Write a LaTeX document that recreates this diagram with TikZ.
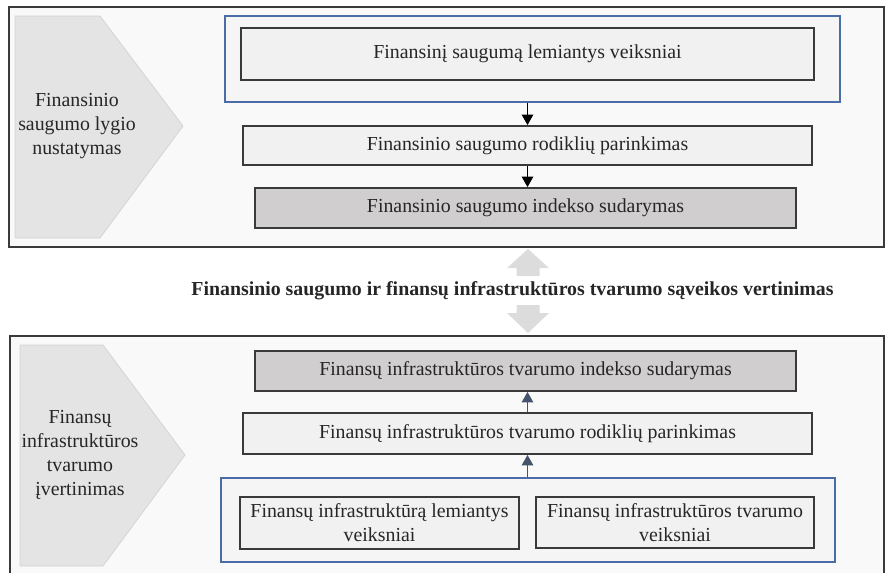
\documentclass[tikz,border=0pt]{standalone}
\usepackage{fontspec}
\setmainfont{Liberation Serif}
\usepackage{xcolor}
\definecolor{Frame}{HTML}{3A3A3A}
\definecolor{Sheet}{HTML}{F9F9F9}
\definecolor{Shade}{HTML}{E4E4E4}
\definecolor{ShadeLine}{HTML}{D2D2D2}
\definecolor{Box}{HTML}{F1F1F1}
\definecolor{Index}{HTML}{D0CECE}
\definecolor{Blue}{HTML}{4A6DA8}
\definecolor{Slate}{HTML}{44546A}
\definecolor{Block}{HTML}{DCDCDC}
\usepackage{tikz}
\usetikzlibrary{arrows.meta,positioning}

\begin{document}
\begin{tikzpicture}[x=0.02cm,y=-0.02cm,
  every node/.style={font=\fontsize{11.3}{13.6}\selectfont,align=center,inner sep=1pt,text=black!85},
  box/.style={draw=Frame,line width=1pt,fill=Box},
  idxbox/.style={box,fill=Index},
  grp/.style={draw=Blue,line width=0.8pt,fill=Box!50!Sheet},
  tip/.style={-{Triangle[length=6pt,width=6.5pt]},line width=0.9pt}]
\useasboundingbox (0,0) rectangle (886,572);
% upper part
\draw[Frame,line width=1.1pt,fill=Sheet] (9,7) rectangle (884,247);
\filldraw[fill=Shade,draw=ShadeLine] (15,16) -- (100,16) -- (183,126) -- (100,238) -- (15,238) -- cycle;
\node (lvl) at (77,126) {Finansinio\\saugumo lygio\\nustatymas};
\node[grp,minimum width=12.3cm,minimum height=1.72cm] (tgrp) at (532.5,59) {};
\node[box,minimum width=11.46cm,minimum height=1.04cm] (fa) at (527.5,54) {Finansinį saugumą lemiantys veiksniai};
\node[box,minimum width=11.38cm,minimum height=0.78cm] (fb) at (527.5,145.5) {Finansinio saugumo rodiklių parinkimas};
\node[idxbox,minimum width=10.82cm,minimum height=0.8cm] (fc) at (525.5,208) {Finansinio saugumo indekso sudarymas};
\draw[tip] (tgrp.south -| fb.north) -- (fb.north);
\draw[tip] (fb.south) -- (fc.north -| fb.south);
% middle
\fill[Block] (528,249) -- (549,268) -- (539.5,268) -- (539.5,276) -- (516.5,276) -- (516.5,268) -- (507,268) -- cycle;
\fill[Block] (528,333) -- (549,313) -- (539.5,313) -- (539.5,305) -- (516.5,305) -- (516.5,313) -- (507,313) -- cycle;
\node[font=\fontsize{11.3}{13.6}\selectfont\bfseries] (mid) at (512.5,291) {Finansinio saugumo ir finansų infrastruktūros tvarumo sąveikos vertinimas};
% lower part
\fill[Sheet] (10,336) rectangle (884,580);
\draw[Frame,line width=1.1pt] (10,580) -- (10,336) -- (884,336) -- (884,580);
\filldraw[fill=Shade,draw=ShadeLine] (20,345) -- (103,345) -- (185,455) -- (103,566) -- (20,566) -- cycle;
\node (inf) at (80,455) {Finansų\\infrastruktūros\\tvarumo\\įvertinimas};
\node[idxbox,minimum width=10.82cm,minimum height=0.8cm] (bc) at (525.5,371) {Finansų infrastruktūros tvarumo indekso sudarymas};
\node[box,minimum width=11.38cm,minimum height=0.82cm] (bb) at (527.5,433.5) {Finansų infrastruktūros tvarumo rodiklių parinkimas};
\node[grp,minimum width=12.28cm,minimum height=1.68cm] (bgrp) at (528,520) {};
\node[box,minimum width=5.58cm,minimum height=1.04cm] (ba) at (379.5,523) {Finansų infrastruktūrą lemiantys\\veiksniai};
\node[box,minimum width=5.56cm,minimum height=1.02cm] (bd) at (675,522.5) {Finansų infrastruktūros tvarumo\\veiksniai};
\draw[tip,Slate] (bgrp.north -| bb.south) -- (bb.south);
\draw[tip,Slate] (bb.north) -- (bc.south -| bb.north);
\end{tikzpicture}
\end{document}
